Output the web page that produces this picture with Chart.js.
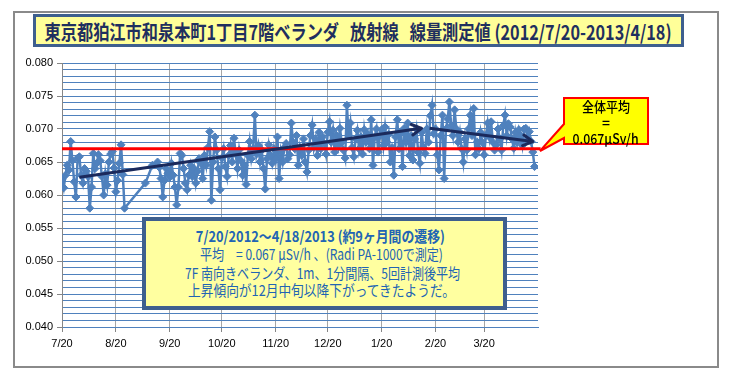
<!DOCTYPE html>
<html><head><meta charset="utf-8">
<script src="https://cdn.jsdelivr.net/npm/chart.js@4"></script>
<style>
html,body{margin:0;padding:0;background:#fff;width:740px;height:381px;overflow:hidden;}
#wrap{position:relative;width:740px;height:381px;}
canvas{position:absolute;left:0;top:0;}
.frame{position:absolute;left:13px;top:11px;width:702px;height:353px;border:2px solid #8a8a8a;}
.box{position:absolute;box-sizing:border-box;}
.t{position:absolute;white-space:nowrap;line-height:1;}
.t span{display:inline-block;transform-origin:50% 50%;white-space:pre;}
</style></head>
<body><div id="wrap">
<div class="frame"></div>
<canvas id="c" width="740" height="381"></canvas>
<div class="box" style="left:33px;top:14px;width:651px;height:33px;border:3px solid #3E5F8E;background:#FFFF99;"></div>
<div class="t" data-w="627" data-cx="358.5" data-cy="31" style="font:bold 20px 'Noto Sans CJK JP';color:#1F2F5F;"><span>東京都狛江市和泉本町1丁目7階ベランダ   放射線   線量測定値 (2012/7/20-2013/4/18)</span></div>
<div class="box" style="left:142px;top:217px;width:365px;height:93px;border:4px solid #3E5F8E;background:#FFFFA0;"></div>
<div class="t" data-w="249" data-cx="320.5" data-cy="235.5" style="font:bold 15px 'Noto Sans CJK JP';color:#2164B4;"><span>7/20/2012～4/18/2013 (約9ヶ月間の遷移)</span></div>
<div class="t" data-w="243" data-cx="321.5" data-cy="253.5" style="font:15px 'Noto Sans CJK JP';color:#2164B4;"><span>平均　= 0.067 μSv/h 、(Radi PA-1000で測定)</span></div>
<div class="t" data-w="275" data-cx="322.5" data-cy="272" style="font:15px 'Noto Sans CJK JP';color:#2164B4;"><span>7F 南向きベランダ、1m、1分間隔、5回計測後平均</span></div>
<div class="t" data-w="267" data-cx="321.5" data-cy="289.5" style="font:15px 'Noto Sans CJK JP';color:#2164B4;"><span>上昇傾向が12月中旬以降下がってきたようだ。</span></div>
<svg style="position:absolute;left:0;top:0" width="740" height="381"><path d="M564,98 H648 V144 H564 V138 L540,151 L564,124 Z" fill="#FFFF00" stroke="#FF0000" stroke-width="2"/></svg>
<div class="t" data-w="48" data-cx="606" data-cy="105.5" style="font:500 14px 'Noto Sans CJK JP';color:#000;"><span>全体平均</span></div>
<div class="t" data-w="8" data-cx="606" data-cy="121.5" style="font:500 14px 'Noto Sans CJK JP';color:#000;"><span>=</span></div>
<div class="t" data-w="66" data-cx="606" data-cy="138" style="font:500 14px 'Noto Sans CJK JP';color:#000;"><span>0.067μSv/h</span></div>
</div>
<script>
// day index counted from 2012/7/20
const days = [0,1,2,3,4,5,6,7,8,9,10,11,12,13,14,15,16,17,18,19,20,21,22,23,24,25,26,27,28,29,30,31,32,33,34,35,36,
48,52,55,56,57,58,59,60,61,62,63,64,65,66,67,68,69,70,71,72,73,74,75,76,77,78,79,80,81,82,83,84,85,86,87,88,89,90,
91,92,93,94,95,96,97,98,99,100,101,102,103,104,105,106,107,108,109,110,111,112,113,114,115,116,117,118,119,120,
121,122,123,124,125,126,127,128,129,130,131,132,133,134,135,136,137,138,139,140,141,142,143,144,145,146,147,148,149,150,
151,152,153,154,155,156,157,158,159,160,161,162,163,164,165,166,167,168,169,170,171,172,173,174,175,176,177,178,179,180,
181,182,183,184,185,186,187,188,189,190,191,192,193,194,195,196,197,198,199,200,201,202,203,204,205,206,207,208,209,210,
211,212,213,214,215,216,217,218,219,220,221,222,223,224,225,226,227,228,229,230,231,232,233,234,235,236,237,238,239,240,
241,242,243,244,245,246,247,248,249,250,251,252,253,254,255,256,257,258,259,260,261,262,263,264,265,266,267,268,269,270,271,272];
const doseRate = [
.0624,.0611,.0630,.0645,.0638,.0681,.0652,.0620,.0597,.0656,
.0658,.0630,.0618,.0640,.0636,.0628,.0580,.0612,.0663,.0640,
.0648,.0661,.0652,.0628,.0600,.0632,.0615,.0650,.0662,.0666,
.0641,.0605,.0622,.0648,.0676,.0631,.0580,
.0618,.0645,.0650,.0642,.0625,.0597,.0622,.0640,.0633,.0627,.0648,.0630,.0612,.0585,.0612,.0663,.0660,.0640,.0618,.0608,
.0630,.0645,.0628,.0640,.0618,.0636,.0655,.0648,.0625,.0660,.0645,.0672,.0696,.0592,.0650,.0688,.0668,.0640,
.0608,.0656,.0670,.0643,.0628,.0660,.0675,.0650,.0686,.0662,.0640,.0668,.0652,.0630,.0645,.0616,.0660,.0681,.0655,.0670,.0721,.0662,.0675,.0650,.0668,.0640,.0609,.0655,.0676,.0660,
.0648,.0670,.0655,.0688,.0625,.0665,.0650,.0672,.0678,.0655,.0661,.0709,.0680,.0670,.0690,.0645,.0672,.0660,.0685,.0650,.0635,.0668,.0690,.0706,.0672,.0685,.0660,.0695,.0670,.0688,
.0678,.0662,.0695,.0711,.0680,.0698,.0665,.0690,.0675,.0701,.0680,.0668,.0656,.0736,.0690,.0709,.0672,.0658,.0685,.0698,.0670,.0688,.0662,.0699,.0680,.0692,.0670,.0714,.0645,.0688,
.0700,.0665,.0690,.0699,.0675,.0703,.0680,.0692,.0650,.0672,.0630,.0688,.0714,.0670,.0695,.0643,.0701,.0680,.0709,.0660,.0690,.0653,.0685,.0700,.0665,.0648,.0695,.0672,.0663,.0700,
.0680,.0720,.0736,.0693,.0700,.0661,.0638,.0690,.0721,.0625,.0700,.0715,.0741,.0705,.0690,.0729,.0700,.0680,.0695,.0670,.0650,.0685,.0668,.0700,.0721,.0690,.0731,.0661,.0680,.0670,
.0695,.0680,.0661,.0690,.0709,.0688,.0711,.0680,.0668,.0676,.0700,.0685,.0668,.0705,.0721,.0690,.0708,.0703,.0685,.0671,.0695,.0680,.0699,.0690,.0675,.0700,.0701,.0685,.0696,.0681,.0665,.0643];
const monthTickDays = [0,31,62,92,123,153,184,215,243,274];
const monthTickLabels = ['7/20','8/20','9/20','10/20','11/20','12/20','1/20','2/20','3/20',''];
const averageRate = 0.067;
const avgLineDays = [0,275.5];
const trendUpDays = [10,207];
const trendUpValues = [0.0627,0.0701];
const trendDownDays = [211.6,271];
const trendDownValues = [0.0701,0.0681];
const yMinK = 40, yMaxK = 80; // thousandths

const pts = (xs, ys) => xs.map((x,i)=>({x, y: ys[i]}));

const arrowPlugin = {id:'arrows', afterDatasetsDraw(chart){
  const ctx = chart.ctx;
  chart.data.datasets.forEach((ds,i)=>{
    if(!ds.arrow) return;
    const p = chart.getDatasetMeta(i).data;
    const a = p[p.length-2], b = p[p.length-1];
    const ang = Math.atan2(b.y-a.y, b.x-a.x);
    const L = 11, W = 0.5;
    ctx.save();
    ctx.strokeStyle = ds.borderColor; ctx.lineWidth = 3; ctx.lineCap='round'; ctx.lineJoin='round';
    ctx.beginPath();
    ctx.moveTo(b.x - L*Math.cos(ang-W), b.y - L*Math.sin(ang-W));
    ctx.lineTo(b.x, b.y);
    ctx.lineTo(b.x - L*Math.cos(ang+W), b.y - L*Math.sin(ang+W));
    ctx.stroke();
    ctx.restore();
  });
}};

const yTicks = [];
for (let k=yMinK;k<=yMaxK;k++) yTicks.push(k/1000);

new Chart(document.getElementById('c'), {
  type:'line',
  data:{datasets:[
    {data: pts(trendUpDays, trendUpValues), borderColor:'#1B2A5C', borderWidth:3, pointRadius:0, arrow:true},
    {data: pts(trendDownDays, trendDownValues), borderColor:'#1B2A5C', borderWidth:3, pointRadius:0, arrow:true},
    {data: pts(avgLineDays, avgLineDays.map(()=>averageRate)), borderColor:'#FF0000', borderWidth:3, pointRadius:0, clip:false},
    {data: pts(days, doseRate), borderColor:'#4F81BD', backgroundColor:'#4F81BD', borderWidth:2.5,
     pointStyle:'rectRot', pointRadius:4, pointBorderWidth:1, pointBackgroundColor:'#4F81BD', pointBorderColor:'#4F81BD', tension:0}
  ]},
  options:{
    responsive:false, animation:false, devicePixelRatio:1,
    layout:{padding:{left:0,top:63,right:202,bottom:10}},
    plugins:{legend:{display:false}, tooltip:{enabled:false}},
    scales:{
      x:{type:'linear', min:0, max:274,
        afterBuildTicks(s){ s.ticks = monthTickDays.map(v=>({value:v})); },
        afterFit(s){ s.height = 44; },
        ticks:{autoSkip:false, maxRotation:0, color:'#000', padding:5, font:{family:'Liberation Sans', size:11},
          callback:(v)=>{ const i = monthTickDays.indexOf(v); return i>=0 ? monthTickLabels[i] : ''; }},
        grid:{color:(c)=> (c.tick && c.tick.value===274) ? 'rgba(0,0,0,0)' : '#A6A6A6', lineWidth:1, tickLength:5,
          tickColor:(c)=> (c.tick && c.tick.value===274) ? 'rgba(0,0,0,0)' : '#868686'},
        border:{color:'#4F81BD', width:1}
      },
      y:{min:yMinK/1000, max:yMaxK/1000,
        afterBuildTicks(s){ s.ticks = yTicks.map(v=>({value:v})); },
        afterFit(s){ s.width = 62; },
        ticks:{autoSkip:false, color:'#000', padding:4, font:{family:'Liberation Sans', size:11},
          callback:(v,i)=> (i%5===0) ? (v).toFixed(3) : ''},
        grid:{color:'#4F81BD', lineWidth:1, tickLength:5,
          tickColor:(c)=> (c.index%5===0) ? '#868686' : 'rgba(0,0,0,0)'},
        border:{color:'#868686', width:1}
      }
    }
  },
  plugins:[arrowPlugin]
});

document.querySelectorAll('.t').forEach(el=>{
  const sp = el.querySelector('span');
  const r = sp.getBoundingClientRect();
  const w = +el.dataset.w, cx = +el.dataset.cx, cy = +el.dataset.cy;
  sp.style.transform = 'scaleX(' + (w/r.width) + ')';
  el.style.left = (cx - r.width/2) + 'px';
  el.style.top = (cy - r.height/2) + 'px';
});
</script>
</body></html>
